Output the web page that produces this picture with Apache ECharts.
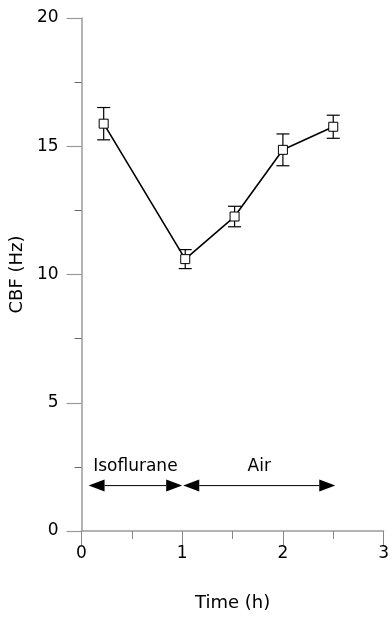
<!DOCTYPE html>
<html>
<head>
<meta charset="utf-8">
<script src="https://cdn.jsdelivr.net/npm/echarts@6/dist/echarts.min.js"></script>
<style>
  html, body { margin: 0; padding: 0; background: #fff; }
  #chart { width: 392px; height: 617px; }
</style>
</head>
<body>
<div id="chart"></div>
<script>
// time points (h), mean CBF (Hz) and error (±)
const times = [0.22, 1.03, 1.52, 2.0, 2.5];
const cbf = [15.88, 10.6, 12.26, 14.86, 15.76];
const cbfErr = [0.63, 0.37, 0.4, 0.62, 0.45];

// gas periods drawn as double arrows
const periodNames = ['Isoflurane', 'Air'];
const periodStart = [0.07, 1.01];
const periodEnd = [1.0, 2.52];
const periodLevel = 1.77;

const xTicks = [0, 1, 2, 3];
const yTicks = [0, 5, 10, 15, 20];

const FONT = 'DejaVu Sans';
const AXIS_GREY = '#9a9a9a';

const chart = echarts.init(document.getElementById('chart'));

const errorData = times.map((t, i) => [t, cbf[i], cbfErr[i]]);
const periodData = periodNames.map((n, i) => [periodStart[i], periodEnd[i], periodLevel, n]);

const renderError = (params, api) => {
  const x = api.value(0), y = api.value(1), e = api.value(2);
  const top = api.coord([x, y + e]);
  const bot = api.coord([x, y - e]);
  const half = 6.5;
  const st = { stroke: '#000', lineWidth: 1.2 };
  return {
    type: 'group',
    children: [
      { type: 'line', shape: { x1: top[0], y1: top[1], x2: bot[0], y2: bot[1] }, style: st },
      { type: 'line', shape: { x1: top[0] - half, y1: top[1], x2: top[0] + half, y2: top[1] }, style: st },
      { type: 'line', shape: { x1: bot[0] - half, y1: bot[1], x2: bot[0] + half, y2: bot[1] }, style: st },
    ],
  };
};

const renderPeriod = (params, api) => {
  const a = api.coord([api.value(0), api.value(2)]);
  const b = api.coord([api.value(1), api.value(2)]);
  const name = periodNames[params.dataIndex];
  const len = 16, hw = 6;
  return {
    type: 'group',
    children: [
      { type: 'line', shape: { x1: a[0] + len, y1: a[1], x2: b[0] - len, y2: b[1] },
        style: { stroke: '#000', lineWidth: 1 } },
      { type: 'polygon', shape: { points: [[a[0], a[1]], [a[0] + len, a[1] - hw], [a[0] + len, a[1] + hw]] },
        style: { fill: '#000' } },
      { type: 'polygon', shape: { points: [[b[0], b[1]], [b[0] - len, b[1] - hw], [b[0] - len, b[1] + hw]] },
        style: { fill: '#000' } },
      { type: 'text', x: (a[0] + b[0]) / 2, y: a[1] - 19,
        style: { text: name, fill: '#000', font: '17px "' + FONT + '"', align: 'center', verticalAlign: 'middle' } },
    ],
  };
};

chart.setOption({
  animation: false,
  backgroundColor: '#fff',
  grid: { left: 79, right: 4, top: 18, bottom: 75 },
  xAxis: {
    type: 'value',
    min: xTicks[0],
    max: xTicks[xTicks.length - 1],
    interval: 1,
    name: 'Time (h)',
    nameLocation: 'middle',
    nameGap: 63,
    nameTextStyle: { fontFamily: FONT, fontSize: 18, color: '#000' },
    axisLine: { show: true, onZero: false, lineStyle: { color: AXIS_GREY, width: 1.5 } },
    axisTick: { show: true, length: 14, lineStyle: { color: '#888', width: 1 } },
    minorTick: { show: true, splitNumber: 2, length: 8, lineStyle: { color: '#888', width: 1 } },
    axisLabel: { margin: 14, fontFamily: FONT, fontSize: 17, color: '#000' },
    splitLine: { show: false },
  },
  yAxis: {
    type: 'value',
    min: yTicks[0],
    max: yTicks[yTicks.length - 1],
    interval: 5,
    name: 'CBF (Hz)',
    nameLocation: 'middle',
    nameGap: 53,
    nameTextStyle: { fontFamily: FONT, fontSize: 18, color: '#000' },
    axisLine: { show: true, onZero: false, lineStyle: { color: AXIS_GREY, width: 1.5 } },
    axisTick: { show: true, length: 15, lineStyle: { color: AXIS_GREY, width: 1.2 } },
    minorTick: { show: true, splitNumber: 2, length: 7, lineStyle: { color: '#666', width: 1 } },
    axisLabel: { margin: 23, fontFamily: FONT, fontSize: 17, color: '#000' },
    splitLine: { show: false },
  },
  series: [
    {
      type: 'custom',
      renderItem: renderError,
      data: errorData,
      z: 1,
      silent: true,
    },
    {
      type: 'line',
      data: times.map((t, i) => [t, cbf[i]]),
      symbol: 'rect',
      symbolSize: 9,
      showAllSymbol: true,
      lineStyle: { color: '#000', width: 1.6 },
      itemStyle: { color: '#fff', borderColor: '#000', borderWidth: 1 },
      z: 3,
    },
    {
      type: 'custom',
      renderItem: renderPeriod,
      data: periodData,
      z: 2,
      silent: true,
    },
  ],
});
</script>
</body>
</html>
